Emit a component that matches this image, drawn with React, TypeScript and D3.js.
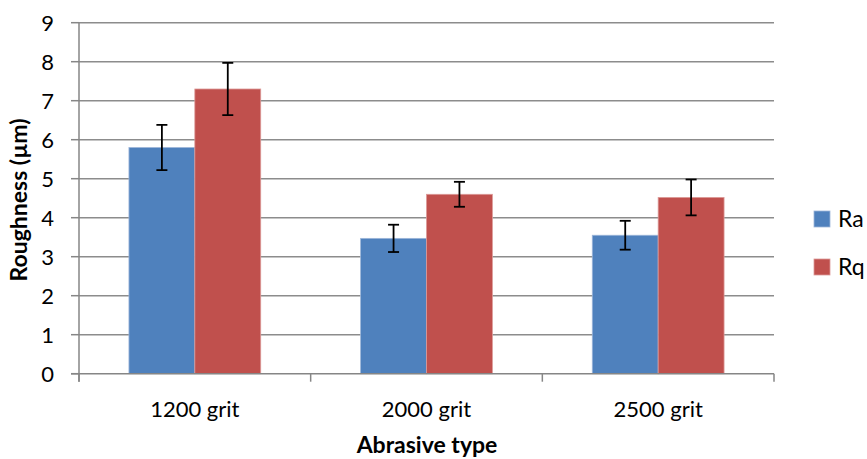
import React, { useEffect, useRef } from "react";
import * as d3 from "d3";

const categories = ["1200 grit", "2000 grit", "2500 grit"];
const seriesNames = ["Ra", "Rq"];
const raValues = [5.8, 3.47, 3.55];
const rqValues = [7.3, 4.6, 4.52];
const raErrors = [0.58, 0.35, 0.37];
const rqErrors = [0.67, 0.32, 0.46];
const yTicks = [0, 1, 2, 3, 4, 5, 6, 7, 8, 9];
const colors = ["#4F81BD", "#C0504D"];
const strokeColors = ["#9DB6D9", "#DC9A98"];

const W = 867;
const H = 459;
const FONT = "Lato, 'Open Sans', sans-serif";

export default function App() {
  const ref = useRef<SVGSVGElement>(null);
  useEffect(() => {
    const svg = d3.select(ref.current);
    svg.selectAll("*").remove();
    const left = 79, right = 774, top = 22.7, bottom = 373.7;
    const x = d3.scaleBand().domain(categories).range([left, right]).paddingInner(0).paddingOuter(0);
    const x1 = d3.scaleBand().domain(seriesNames).range([0, x.bandwidth()]).paddingInner(0).paddingOuter(0.758);
    const y = d3.scaleLinear().domain([0, 9]).range([bottom, top]);

    const g = svg.append("g");
    g.selectAll(".grid").data(yTicks.filter(t => t > 0)).join("line")
      .attr("x1", left).attr("x2", right)
      .attr("y1", d => y(d)).attr("y2", d => y(d))
      .attr("stroke", "#8C8C8C").attr("stroke-width", 1.5);

    const data = [raValues, rqValues];
    const errs = [raErrors, rqErrors];
    seriesNames.forEach((s, si) => {
      categories.forEach((c, ci) => {
        const v = data[si][ci];
        const bx = (x(c) as number) + (x1(s) as number);
        const bw = x1.bandwidth();
        g.append("rect").attr("x", bx).attr("y", y(v)).attr("width", bw).attr("height", y(0) - y(v))
          .attr("fill", colors[si]).attr("stroke", strokeColors[si]).attr("stroke-width", 0.8);
      });
    });
    seriesNames.forEach((s, si) => {
      categories.forEach((c, ci) => {
        const v = data[si][ci];
        const e = errs[si][ci];
        const cx = (x(c) as number) + (x1(s) as number) + x1.bandwidth() / 2;
        const eg = g.append("g").attr("stroke", "#000").attr("stroke-width", 1.8);
        eg.append("line").attr("x1", cx).attr("x2", cx).attr("y1", y(v + e)).attr("y2", y(v - e));
        eg.append("line").attr("x1", cx - 5.5).attr("x2", cx + 5.5).attr("y1", y(v + e)).attr("y2", y(v + e));
        eg.append("line").attr("x1", cx - 5.5).attr("x2", cx + 5.5).attr("y1", y(v - e)).attr("y2", y(v - e));
      });
    });

    const axisColor = "#868686";
    g.append("line").attr("x1", left).attr("x2", left).attr("y1", top).attr("y2", bottom + 8)
      .attr("stroke", axisColor).attr("stroke-width", 1.5);
    g.append("line").attr("x1", left - 8).attr("x2", right).attr("y1", bottom).attr("y2", bottom)
      .attr("stroke", axisColor).attr("stroke-width", 1.5);
    g.selectAll(".ytick").data(yTicks).join("line")
      .attr("x1", left - 8).attr("x2", left).attr("y1", d => y(d)).attr("y2", d => y(d))
      .attr("stroke", axisColor).attr("stroke-width", 1.5);
    const xEdges = [...categories.map(c => x(c) as number), right];
    g.selectAll(".xtick").data(xEdges).join("line")
      .attr("x1", d => d).attr("x2", d => d).attr("y1", bottom).attr("y2", bottom + 8)
      .attr("stroke", axisColor).attr("stroke-width", 1.5);

    g.selectAll(".ylab").data(yTicks).join("text")
      .attr("x", 54).attr("y", d => y(d)).attr("dy", "0.36em")
      .attr("text-anchor", "end").attr("font-family", FONT).attr("font-size", 22).attr("fill", "#000")
      .text(d => String(d));
    g.selectAll(".xlab").data(categories).join("text")
      .attr("x", d => (x(d) as number) + x.bandwidth() / 2).attr("y", 417)
      .attr("text-anchor", "middle").attr("font-family", FONT).attr("font-size", 22).attr("fill", "#000")
      .text(d => d);

    svg.append("text").attr("x", 427).attr("y", 453).attr("text-anchor", "middle")
      .attr("font-family", FONT).attr("font-size", 23).attr("font-weight", "bold").text("Abrasive type");
    svg.append("text").attr("transform", "translate(27,200) rotate(-90)").attr("text-anchor", "middle")
      .attr("font-family", FONT).attr("font-size", 23).attr("font-weight", "bold").text("Roughness (µm)");

    seriesNames.forEach((s, i) => {
      const ly = 211 + i * 48;
      svg.append("rect").attr("x", 814).attr("y", ly).attr("width", 16).attr("height", 16)
        .attr("fill", colors[i]).attr("stroke", strokeColors[i]).attr("stroke-width", 0.8);
      svg.append("text").attr("x", 838).attr("y", ly + 8).attr("dy", "0.36em")
        .attr("font-family", FONT).attr("font-size", 23).text(s);
    });
  }, []);
  return (
    <svg ref={ref} width={W} height={H} style={{ position: "absolute", left: 0, top: 0, background: "#fff" }} />
  );
}
